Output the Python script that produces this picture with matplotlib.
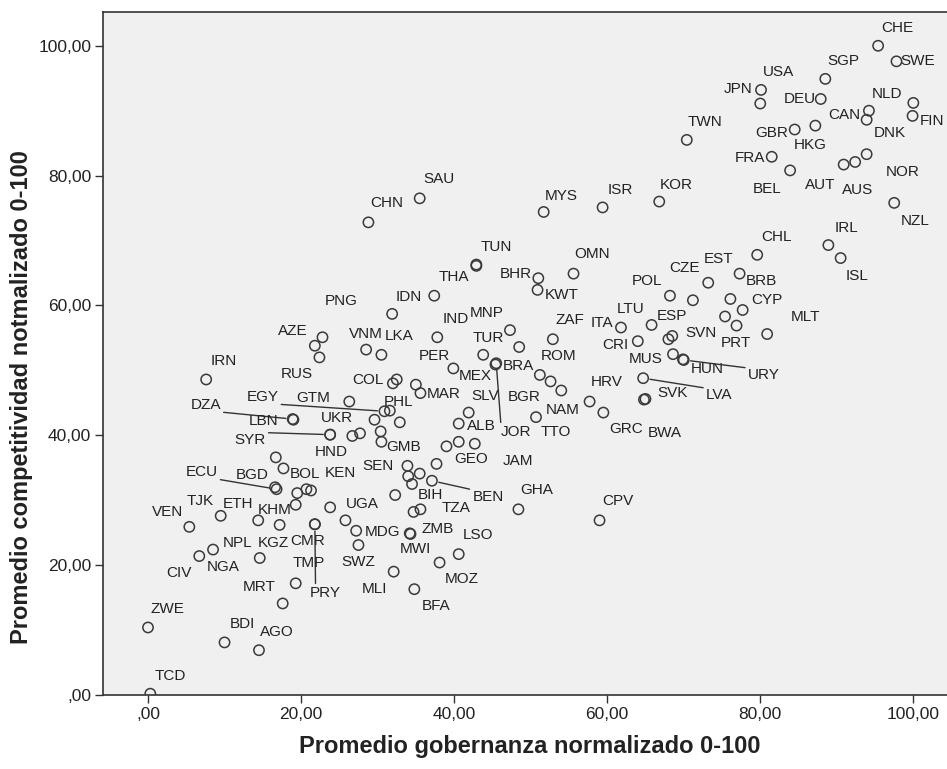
import matplotlib
matplotlib.use('Agg')
import matplotlib.pyplot as plt

# country code, governance index (x), competitiveness index (y); '' = unlabelled point
codes = ['CHE', 'SWE', 'SGP', 'JPN', 'USA', 'DEU', 'NLD', 'FIN', 'CAN', 'DNK',
         'GBR', 'HKG', 'TWN', 'FRA', 'BEL', 'AUT', 'AUS', 'NOR', 'NZL', 'KOR',
         'ISR', 'MYS', 'CHL', 'IRL', 'ISL', 'SAU', 'CHN', 'TUN', 'THA', 'BHR',
         'KWT', 'OMN', 'POL', 'CZE', 'EST', 'BRB', '', 'CYP', '', 'PRT',
         'MLT', 'LTU', 'ITA', 'CRI', 'ESP', 'SVN', 'MUS', 'HUN', 'URY', 'LVA',
         'SVK', 'BWA', 'HRV', 'GRC', 'ZAF', 'MNP', 'BRA', 'TUR', 'JOR', 'MEX',
         'ROM', 'BGR', 'NAM', 'TTO', 'PER', 'SLV', 'ALB', 'MAR', '', 'COL',
         '', 'IND', 'IDN', 'PNG', 'VNM', 'LKA', 'AZE', '', 'RUS', 'IRN',
         'GTM', 'PHL', 'EGY', 'UKR', '', 'DZA', 'LBN', 'SYR', 'HND', '',
         '', '', 'GMB', 'GEO', 'JAM', '', '', 'SEN', '', '',
         'BIH', 'BEN', '', 'TZA', '', 'GHA', 'CPV', 'ZMB', 'MWI', 'LSO',
         'MOZ', 'MLI', 'BFA', 'UGA', '', 'MDG', 'SWZ', 'KEN', 'BOL', '',
         'KHM', 'ECU', 'BGD', '', '', 'ETH', 'KGZ', 'CMR', 'PRY', 'TJK',
         'VEN', 'NGA', 'CIV', 'NPL', 'TMP', 'MRT', 'ZWE', 'BDI', 'AGO', 'TCD']
gov = [95.4, 97.8, 88.5, 80.1, 80.0, 87.9, 100.0, 99.9, 94.2, 93.9,
       84.5, 87.2, 70.4, 81.5, 83.9, 90.9, 92.4, 93.9, 97.5, 66.8,
       59.4, 51.7, 79.6, 88.9, 90.5, 35.5, 28.8, 42.9, 42.9, 51.0,
       50.9, 55.6, 68.2, 71.2, 73.2, 77.3, 76.1, 77.7, 75.4, 76.9,
       80.9, 65.8, 61.8, 64.0, 68.5, 68.0, 68.6, 69.9, 70.0, 64.7,
       65.0, 64.8, 57.7, 59.5, 52.9, 47.3, 48.5, 43.8, 45.5, 45.4,
       51.2, 52.6, 54.0, 50.7, 39.9, 41.9, 40.6, 35.6, 35.0, 32.0,
       32.5, 37.8, 37.4, 31.9, 28.5, 30.5, 22.8, 21.8, 22.4, 7.6,
       26.3, 31.6, 30.9, 29.6, 32.9, 18.9, 19.0, 23.8, 23.8, 26.7,
       27.7, 30.4, 30.5, 40.6, 42.7, 39.0, 37.7, 33.9, 35.5, 34.0,
       34.5, 37.1, 32.3, 35.6, 34.7, 48.4, 59.0, 34.2, 34.3, 40.6,
       38.1, 32.1, 34.8, 23.8, 25.8, 27.2, 27.5, 21.3, 20.7, 19.5,
       19.3, 16.8, 16.6, 16.7, 17.7, 14.4, 17.2, 21.8, 21.8, 9.5,
       5.4, 8.5, 6.7, 14.6, 19.3, 17.6, 0.0, 10.0, 14.5, 0.3]
comp = [100.0, 97.6, 94.9, 93.2, 91.1, 91.8, 91.2, 89.2, 90.0, 88.6,
        87.1, 87.7, 85.5, 82.9, 80.8, 81.7, 82.1, 83.3, 75.8, 76.0,
        75.1, 74.4, 67.8, 69.3, 67.3, 76.5, 72.8, 66.3, 66.1, 64.2,
        62.4, 64.9, 61.5, 60.8, 63.5, 64.9, 61.0, 59.3, 58.3, 56.9,
        55.6, 57.0, 56.6, 54.5, 55.3, 54.8, 52.5, 51.7, 51.6, 48.8,
        45.6, 45.5, 45.2, 43.5, 54.8, 56.2, 53.6, 52.4, 51.1, 50.9,
        49.3, 48.3, 46.9, 42.8, 50.3, 43.5, 41.8, 46.5, 47.8, 48.0,
        48.6, 55.1, 61.5, 58.7, 53.2, 52.4, 55.1, 53.8, 52.0, 48.6,
        45.2, 43.8, 43.7, 42.4, 42.0, 42.5, 42.4, 40.1, 40.1, 39.9,
        40.3, 40.6, 39.0, 39.0, 38.7, 38.3, 35.6, 35.3, 34.1, 33.7,
        32.5, 33.0, 30.8, 28.6, 28.2, 28.6, 26.9, 24.9, 24.8, 21.7,
        20.4, 19.0, 16.3, 28.9, 26.9, 25.3, 23.1, 31.5, 31.7, 31.1,
        29.3, 31.7, 32.0, 36.6, 34.9, 26.9, 26.2, 26.3, 26.3, 27.6,
        25.9, 22.4, 21.4, 21.1, 17.2, 14.1, 10.4, 8.1, 6.9, 0.2]

ticks = [0, 20, 40, 60, 80, 100]
tick_labels = [',00', '20,00', '40,00', '60,00', '80,00', '100,00']

# where each label sits relative to its point, in pixels (right, up)
label_offset = {
    'CHE': (19, 18), 'SWE': (21, 0), 'SGP': (18, 18), 'JPN': (-23, 1), 'USA': (18, 32),
    'DEU': (-21, 0), 'NLD': (-26, 9), 'FIN': (19, -5), 'CAN': (-25, -4), 'DNK': (23, -13),
    'GBR': (-23, -3), 'HKG': (-5, -19), 'TWN': (18, 18), 'FRA': (-22, -1), 'BEL': (-23, -19),
    'AUT': (-23, -20), 'AUS': (2, -28), 'NOR': (36, -18), 'NZL': (21, -18), 'KOR': (17, 17),
    'ISR': (18, 17), 'MYS': (18, 16), 'CHL': (19, 18), 'IRL': (18, 17), 'ISL': (16, -18),
    'SAU': (19, 19), 'CHN': (18, 19), 'TUN': (20, 18), 'THA': (-22, -11), 'BHR': (-23, 4),
    'KWT': (24, -5), 'OMN': (19, 20), 'POL': (-23, 15), 'CZE': (-8, 32), 'EST': (10, 24),
    'BRB': (22, -7), 'CYP': (24, 10), 'PRT': (-1, -17), 'MLT': (38, 17), 'LTU': (-21, 16),
    'ITA': (-19, 5), 'CRI': (-22, -4), 'ESP': (0, 20), 'SVN': (33, 6), 'MUS': (-27, -5),
    'HUN': (24, -10), 'URY': (80, -15), 'LVA': (76, -17), 'SVK': (27, 6), 'BWA': (21, -33),
    'HRV': (17, 20), 'GRC': (23, -16), 'ZAF': (17, 19), 'MNP': (-23, 17), 'BRA': (-1, -19),
    'TUR': (5, 17), 'JOR': (20, -69), 'MEX': (-20, -11), 'ROM': (19, 19), 'BGR': (-26, -16),
    'NAM': (1, -19), 'TTO': (20, -15), 'PER': (-19, 12), 'SLV': (16, 17), 'ALB': (23, -2),
    'MAR': (23, -1), 'COL': (-25, 3), 'IND': (18, 18), 'IDN': (-25, -1), 'PNG': (-51, 13),
    'VNM': (0, 16), 'LKA': (18, 19), 'AZE': (-30, 6), 'RUS': (-23, -17), 'IRN': (18, 18),
    'GTM': (-36, 4), 'PHL': (9, 9), 'EGY': (-122, 14), 'UKR': (-38, 2), 'DZA': (-87, 14),
    'LBN': (-30, -1), 'SYR': (-80, -5), 'HND': (1, -17), 'GMB': (22, -5), 'GEO': (12, -17),
    'JAM': (43, -17), 'SEN': (-29, 0), 'BIH': (18, -11), 'BEN': (56, -16), 'TZA': (36, 1),
    'GHA': (18, 19), 'CPV': (18, 19), 'ZMB': (28, 4), 'MWI': (5, -15), 'LSO': (19, 19),
    'MOZ': (22, -16), 'MLI': (-19, -17), 'BFA': (22, -17), 'UGA': (32, 3), 'MDG': (26, -1),
    'SWZ': (0, -17), 'KEN': (29, 17), 'BOL': (-1, 15), 'KHM': (-21, -5), 'ECU': (-75, 17),
    'BGD': (-23, 12), 'ETH': (-20, 16), 'KGZ': (-6, -18), 'CMR': (-7, -17), 'PRY': (10, -69),
    'TJK': (-21, 15), 'VEN': (-22, 15), 'NGA': (10, -17), 'CIV': (-20, -17), 'NPL': (-22, 15),
    'TMP': (13, 20), 'MRT': (-24, 16), 'ZWE': (19, 18), 'BDI': (18, 18), 'AGO': (18, 18),
    'TCD': (20, 18),
}
# labels joined to their point by a line: corner of the text where the line starts
leader = {
    'DZA': (1, 0), 'EGY': (1, 0), 'SYR': (1, 1), 'ECU': (1, 0), 'JOR': (0, 1),
    'URY': (0, 1), 'LVA': (0, 1), 'PRY': (0.2, 1), 'BEN': (0, 1),
}

W, H = 947, 769
fig = plt.figure(figsize=(W / 100, H / 100), dpi=100)
ax = fig.add_axes([103 / W, 1 - 695 / H, 1 - 103 / W, (695 - 12) / H])
ax.set_facecolor('#f0f0f0')

ax.scatter(gov, comp, s=55, facecolors='none', edgecolors='#3a3a3a',
           linewidths=1.1, zorder=3)

for c, x, y in zip(codes, gov, comp):
    if not c:
        continue
    kw = {}
    if c in leader:
        kw['arrowprops'] = dict(arrowstyle='-', color='#333333', lw=1.0,
                                relpos=leader[c], shrinkA=0, shrinkB=5)
    ax.annotate(c, (x, y), xytext=label_offset[c], textcoords='offset pixels',
                ha='center', va='center', fontsize=11, color='#222222',
                family='Liberation Sans', zorder=4, **kw)

ax.set_xlim(-5.88, 104.4)
ax.set_ylim(0, 105.2)
ax.set_xticks(ticks)
ax.set_xticklabels(tick_labels)
ax.set_yticks(ticks)
ax.set_yticklabels(tick_labels)
ax.tick_params(direction='out', length=6, width=1, color='#333333',
               labelsize=12.5, labelcolor='#222222', pad=2.5)
for lab in ax.get_xticklabels() + ax.get_yticklabels():
    lab.set_family('Liberation Sans')

for side in ['left', 'bottom', 'top']:
    ax.spines[side].set_color('#333333')
    ax.spines[side].set_linewidth(1.2)
ax.spines['right'].set_visible(False)

fig.text(530 / W, 1 - 747 / H, 'Promedio gobernanza normalizado 0-100',
         ha='center', va='center', fontsize=17, fontweight='bold',
         family='Liberation Sans', color='#222222')
fig.text(22 / W, 1 - 397 / H, 'Promedio competitividad notmalizado 0-100',
         ha='center', va='center', rotation=90, fontsize=17, fontweight='bold',
         family='Liberation Sans', color='#222222')

fig.savefig('out.png', dpi=100, facecolor='white')
